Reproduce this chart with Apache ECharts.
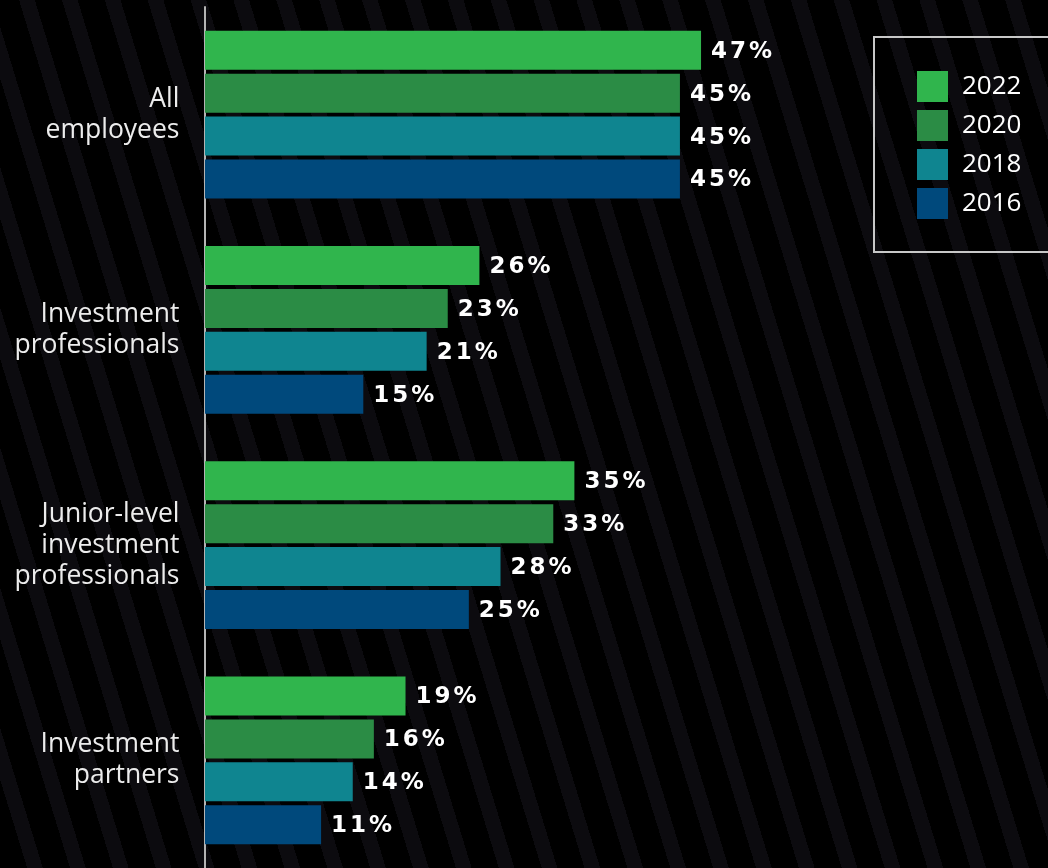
<!DOCTYPE html>
<html>
<head>
<meta charset="utf-8">
<script src="https://cdn.jsdelivr.net/npm/echarts@6/dist/echarts.min.js"></script>
<style>
  html, body { margin: 0; padding: 0; background: #000; }
  #chart {
    width: 1048px; height: 868px;
    background: repeating-linear-gradient(73deg, #000 0px, #000 26px, #0c0b0f 26px, #0c0b0f 41px);
  }
</style>
</head>
<body>
<div id="chart"></div>
<script>
// Groups of staff, top to bottom
const categories = ['All\nemployees', 'Investment\nprofessionals', 'Junior-level\ninvestment\nprofessionals', 'Investment\npartners'];
const years = ['2022', '2020', '2018', '2016'];
const colors = ['#30b54d', '#2b8c45', '#0f8590', '#00497c'];

// Share (%) per group for each survey year
const values2022 = [47, 26, 35, 19];
const values2020 = [45, 23, 33, 16];
const values2018 = [45, 21, 28, 14];
const values2016 = [45, 15, 25, 11];
const seriesValues = [values2022, values2020, values2018, values2016];

const chart = echarts.init(document.getElementById('chart'));

// Value labels are spaced out letter by letter
const labelFont = { color: '#ffffff', fontFamily: 'DejaVu Sans', fontWeight: 'bold', fontSize: 23, padding: [3, 0, 0, 0] };
function spacedLabel(p) {
  const chars = (String(p.value) + '%').split('');
  return chars.map((c, k) => (k < chars.length - 1 ? '{g|' : '{e|') + c + '}').join('');
}

const series = years.map((y, i) => ({
  name: y,
  type: 'bar',
  data: seriesValues[i],
  barWidth: 39,
  barGap: '10%',
  itemStyle: { color: colors[i] },
  label: {
    show: true,
    position: 'right',
    distance: 10,
    formatter: spacedLabel,
    rich: {
      g: Object.assign({}, labelFont, { padding: [3, 3, 0, 0] }),
      e: Object.assign({}, labelFont)
    }
  }
}));

chart.setOption({
  backgroundColor: 'transparent',
  animation: false,
  grid: { left: 205, top: 7, bottom: -3, width: 527.7, containLabel: false },
  xAxis: {
    type: 'value', min: 0, max: 50, show: false
  },
  yAxis: {
    type: 'category',
    data: categories,
    inverse: true,
    offset: 1.5,
    axisLine: { show: true, lineStyle: { color: '#b4b4b4', width: 2 } },
    axisTick: { show: false },
    axisLabel: {
      color: '#ececec',
      fontFamily: 'Open Sans',
      fontSize: 26.5,
      lineHeight: 31,
      margin: 24,
      align: 'right'
    }
  },
  legend: {
    data: years,
    orient: 'vertical',
    left: 874,
    top: 37,
    padding: [34, 60, 33, 43],
    itemWidth: 31,
    itemHeight: 31,
    itemGap: 8,
    icon: 'rect',
    borderColor: '#c8c8c8',
    borderWidth: 2,
    textStyle: { color: '#ffffff', fontFamily: 'Open Sans', fontSize: 26, padding: [0, 0, 0, 9] }
  },
  series: series
});
</script>
</body>
</html>
